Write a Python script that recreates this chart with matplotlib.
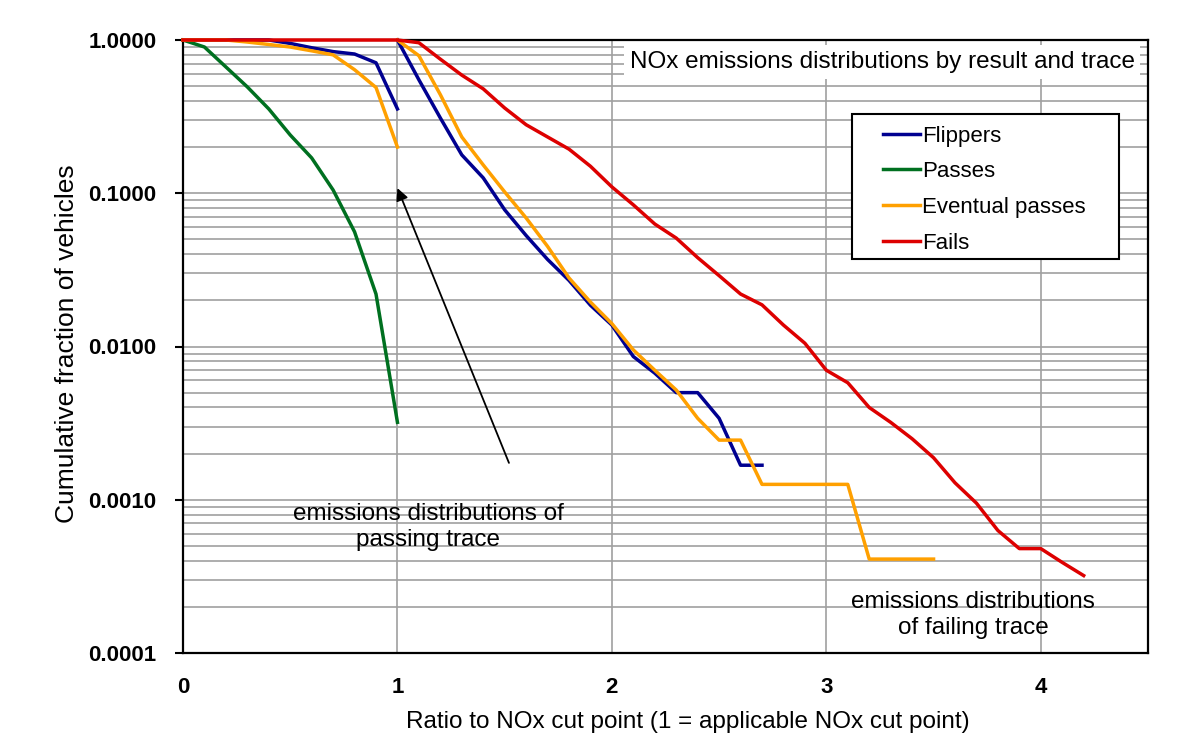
import matplotlib
matplotlib.use("Agg")
import matplotlib.pyplot as plt
from matplotlib.patches import Rectangle
from matplotlib.ticker import FixedLocator, FuncFormatter, LogLocator, NullFormatter

plt.rcParams['font.family'] = ['Liberation Sans', 'DejaVu Sans']

# passing trace: ratio 0 .. 1
x_pass = [0.0, 0.1, 0.2, 0.3, 0.4, 0.5, 0.6, 0.7, 0.8, 0.9, 1.0]
flippers_pass = [1.0, 1.0, 1.0, 1.0, 1.0, 0.95, 0.89, 0.84, 0.81, 0.71, 0.355]
eventual_pass = [1.0, 1.0, 1.0, 0.97, 0.935, 0.90, 0.85, 0.80, 0.64, 0.49, 0.20]
passes = [1.0, 0.9, 0.667, 0.494, 0.355, 0.24, 0.17, 0.105, 0.056, 0.022, 0.0032]

# failing trace: ratio 1 and up
x_flip_fail = [1.0, 1.1, 1.2, 1.3, 1.4, 1.5, 1.6, 1.7, 1.8, 1.9,
               2.0, 2.1, 2.2, 2.3, 2.4, 2.5, 2.6, 2.7]
flippers_fail = [1.0, 0.55, 0.31, 0.178, 0.126, 0.078, 0.053, 0.037, 0.027, 0.0186,
                 0.0138, 0.0086, 0.0067, 0.0050, 0.0050, 0.0034, 0.00168, 0.00168]

x_ev_fail = [1.0, 1.1, 1.2, 1.3, 1.4, 1.5, 1.6, 1.7, 1.8, 1.9,
             2.0, 2.1, 2.2, 2.3, 2.4, 2.5, 2.6, 2.7, 2.8, 2.9,
             3.0, 3.1, 3.2, 3.3, 3.4, 3.5]
eventual_fail = [1.0, 0.79, 0.44, 0.233, 0.153, 0.102, 0.069, 0.045, 0.028, 0.0195,
                 0.0141, 0.0095, 0.0070, 0.0052, 0.0034, 0.00245, 0.00245, 0.00126, 0.00126, 0.00126,
                 0.00126, 0.00126, 0.00041, 0.00041, 0.00041, 0.00041]

x_fails = [0.0, 0.1, 0.2, 0.3, 0.4, 0.5, 0.6, 0.7, 0.8, 0.9,
           1.0, 1.1, 1.2, 1.3, 1.4, 1.5, 1.6, 1.7, 1.8, 1.9,
           2.0, 2.1, 2.2, 2.3, 2.4, 2.5, 2.6, 2.7, 2.8, 2.9,
           3.0, 3.1, 3.2, 3.3, 3.4, 3.5, 3.6, 3.7, 3.8, 3.9,
           4.0, 4.1, 4.2]
fails = [1.0, 1.0, 1.0, 1.0, 1.0, 1.0, 1.0, 1.0, 1.0, 1.0,
         1.0, 0.96, 0.75, 0.59, 0.48, 0.36, 0.28, 0.233, 0.194, 0.150,
         0.110, 0.084, 0.063, 0.051, 0.038, 0.029, 0.022, 0.0187, 0.0138, 0.0105,
         0.0070, 0.0058, 0.0040, 0.0032, 0.0025, 0.00188, 0.00129, 0.00095, 0.00063, 0.00048,
         0.00048, 0.00039, 0.00032]

y_ticks = [0.0001, 0.001, 0.01, 0.1, 1.0]
x_ticks = [0, 1, 2, 3, 4]

c_flip = '#000090'
c_pass = '#007020'
c_ev = '#FFA000'
c_fail = '#DD0000'
grid_c = '#a0a0a0'

fig = plt.figure(figsize=(11.95, 7.4), dpi=100)
ax = fig.add_axes([183 / 1195, 87 / 740, 965 / 1195, 613 / 740])

lw = 2.5
kw = dict(lw=lw, zorder=3, clip_on=False, solid_joinstyle='round')
ax.plot(x_pass, flippers_pass, color=c_flip, **kw)
ax.plot(x_flip_fail, flippers_fail, color=c_flip, label='Flippers', **kw)
ax.plot(x_pass, passes, color=c_pass, label='Passes', **kw)
ax.plot(x_pass, eventual_pass, color=c_ev, **kw)
ax.plot(x_ev_fail, eventual_fail, color=c_ev, label='Eventual passes', **kw)
ax.plot(x_fails, fails, color=c_fail, label='Fails', **kw)

ax.set_yscale('log')
ax.set_ylim(0.0001, 1.0)
ax.set_xlim(0, 4.5)

ax.yaxis.set_major_locator(FixedLocator(y_ticks))
ax.yaxis.set_major_formatter(FuncFormatter(lambda v, p: f'{v:.4f}'))
ax.yaxis.set_minor_locator(LogLocator(base=10, subs=[2, 3, 4, 5, 6, 7, 8, 9]))
ax.yaxis.set_minor_formatter(NullFormatter())
ax.xaxis.set_major_locator(FixedLocator(x_ticks))

ax.set_axisbelow(True)
ax.grid(axis='y', which='both', color=grid_c, lw=1.2)
ax.grid(axis='x', which='major', color=grid_c, lw=1.2)

ax.tick_params(axis='y', which='major', direction='out', length=6, width=1.5,
               pad=13, labelsize=16)
ax.tick_params(axis='y', which='minor', length=0)
ax.tick_params(axis='x', which='major', length=0, pad=17, labelsize=16)
for lab in ax.get_xticklabels() + ax.get_yticklabels():
    lab.set_fontweight('bold')

for sp in ax.spines.values():
    sp.set_linewidth(1.6)
    sp.set_color('black')

ax.set_ylabel('Cumulative fraction of vehicles', fontsize=19)
ax.yaxis.set_label_coords(-0.120, 0.504)
ax.yaxis.label.set_va('center')
ax.set_xlabel('Ratio to NOx cut point (1 = applicable NOx cut point)', fontsize=17.5)
ax.xaxis.set_label_coords(0.523, -0.1126)
ax.xaxis.label.set_va('center')

ax.text(0.7244, 0.964, 'NOx emissions distributions by result and trace',
        transform=ax.transAxes, ha='center', va='center', fontsize=17.5, zorder=4,
        bbox=dict(facecolor='white', edgecolor='none', pad=4))

# legend with a hand-drawn frame
ax.add_patch(Rectangle((0.6933, 0.6427), 0.2767, 0.2365, transform=ax.transAxes,
                       facecolor='white', edgecolor='black', lw=1.5, zorder=5))
leg = ax.legend(loc='upper left', bbox_to_anchor=(0.7254, 0.8605), frameon=False,
                fontsize=16, borderpad=0, borderaxespad=0, handlelength=1.67,
                handletextpad=0.1, labelspacing=0.66)
leg.set_zorder(6)

ax.annotate('', xy=(1.0, 0.108), xytext=(1.52, 0.00174),
            arrowprops=dict(arrowstyle='-|>', color='black', lw=1.3,
                            mutation_scale=18, shrinkA=0, shrinkB=0), zorder=4)
ax.text(1.144, 0.000664, 'emissions distributions of\npassing trace',
        ha='center', va='center', fontsize=17.5, zorder=4)
ax.text(3.684, 0.000177, 'emissions distributions\nof failing trace',
        ha='center', va='center', fontsize=17.5, zorder=4)

fig.savefig('out.png', dpi=100)
